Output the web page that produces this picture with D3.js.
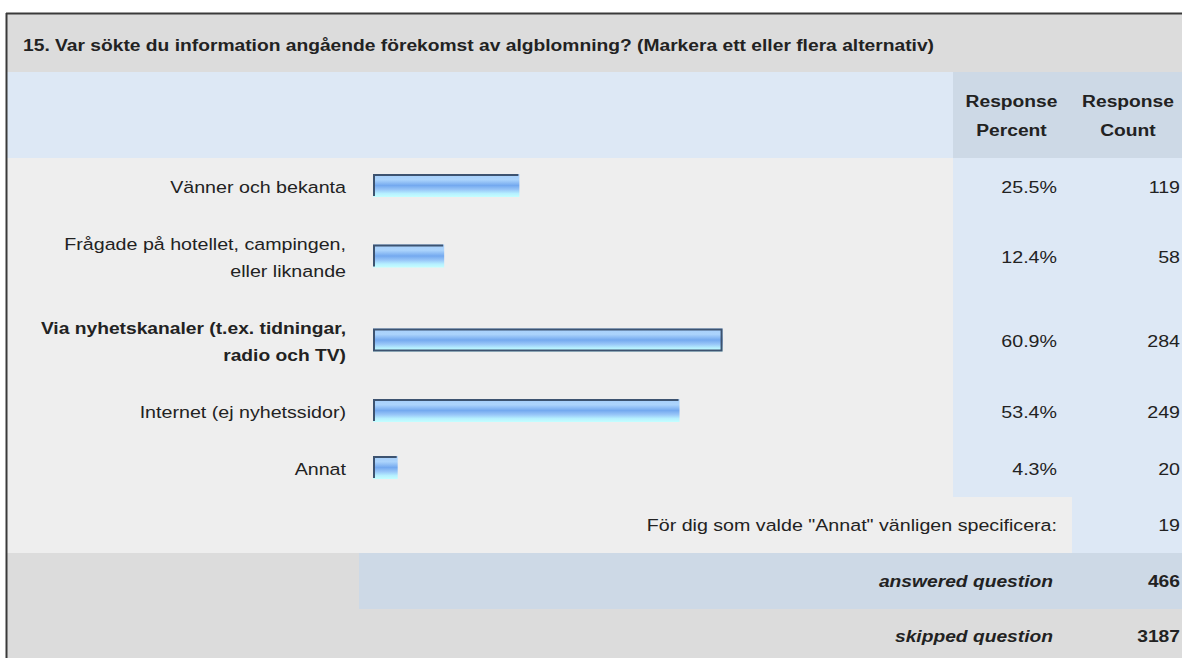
<!DOCTYPE html>
<html>
<head>
<meta charset="utf-8">
<script src="https://cdn.jsdelivr.net/npm/d3@7"></script>
<style>
  html, body { margin: 0; padding: 0; background: #ffffff; }
  svg { display: block; }
  text { font-family: "Liberation Sans", Arial, sans-serif; fill: #222; }
</style>
</head>
<body>
<svg id="chart" width="1182" height="658"></svg>
<script>
// Survey question 15 – answer options, shares and counts
const question = "15. Var sökte du information angående förekomst av algblomning? (Markera ett eller flera alternativ)";
const categories = [
  ["Vänner och bekanta"],
  ["Frågade på hotellet, campingen,", "eller liknande"],
  ["Via nyhetskanaler (t.ex. tidningar,", "radio och TV)"],
  ["Internet (ej nyhetssidor)"],
  ["Annat"]
];
const percents = [25.5, 12.4, 60.9, 53.4, 4.3];
const counts = [119, 58, 284, 249, 20];
const highlighted = [false, false, true, false, false];
const headerPercent = ["Response", "Percent"];
const headerCount = ["Response", "Count"];
const otherLabel = "För dig som valde \"Annat\" vänligen specificera:";
const otherCount = 19;
const answeredLabel = "answered question";
const answeredCount = 466;
const skippedLabel = "skipped question";
const skippedCount = 3187;

const W = 1182, H = 658;
const svg = d3.select("#chart");
const fs = 17.4;        // font size
const sxRegular = 1.13; // horizontal glyph stretch, regular weight
const sxBold = 1.105;   // horizontal glyph stretch, bold weight

// table geometry
const tLeft = 7, tTop = 14, tRight = W;
const titleH = 58, headerH = 86;
const pctX0 = 953, cntX0 = 1072;
const lineH = 27, rowPad = 30;

// bar scale: 0–100 % across the bar column
const x = d3.scaleLinear().domain([0, 100]).range([373, 947]);

// text helper: anchored at (x, y) with a vertical centre on y
function label(parent, px, py, str, opt = {}) {
  const sx = opt.bold ? sxBold : sxRegular;
  return parent.append("text")
    .attr("transform", `translate(${px},${py}) scale(${sx},1)`)
    .attr("dy", "0.35em")
    .attr("text-anchor", opt.anchor || "start")
    .attr("font-size", fs)
    .attr("font-weight", opt.bold ? "bold" : "normal")
    .attr("font-style", opt.italic ? "italic" : "normal")
    .text(str);
}

// defs: bar gradient
const defs = svg.append("defs");
const grad = defs.append("linearGradient").attr("id", "barGrad")
  .attr("x1", 0).attr("y1", 0).attr("x2", 0).attr("y2", 1);
[[0, "#a7cffb"], [0.25, "#acd4fc"], [0.5, "#74a9ef"], [0.68, "#98c6f8"], [0.85, "#b6f0ff"], [1, "#c4ffff"]]
  .forEach(([o, c]) => grad.append("stop").attr("offset", o).attr("stop-color", c));

// row layout derived from the number of label lines
const rows = [];
let yCursor = tTop + titleH + headerH;
categories.forEach((lines, i) => {
  const h = rowPad + lines.length * lineH;
  rows.push({ y0: yCursor, h, cy: yCursor + h / 2, lines, pct: percents[i], cnt: counts[i], hi: highlighted[i] });
  yCursor += h;
});
const bodyTop = tTop + titleH + headerH;
const bodyBottom = yCursor;
const otherH = 56, answeredH = 56;
const otherTop = bodyBottom, answeredTop = otherTop + otherH, skippedTop = answeredTop + answeredH;

// backgrounds
function band(x0, y0, x1, y1, fill) {
  svg.append("rect").attr("x", x0).attr("y", y0).attr("width", x1 - x0).attr("height", y1 - y0).attr("fill", fill);
}
band(tLeft, tTop, tRight, tTop + titleH, "#dcdcdc");
band(tLeft, tTop + titleH, pctX0, bodyTop, "#dde8f5");
band(pctX0, tTop + titleH, tRight, bodyTop, "#cdd9e6");
band(tLeft, bodyTop, pctX0, bodyBottom, "#eeeeee");
band(pctX0, bodyTop, tRight, bodyBottom, "#dde8f5");
band(tLeft, otherTop, cntX0, answeredTop, "#eeeeee");
band(cntX0, otherTop, tRight, answeredTop, "#dde8f5");
band(tLeft, answeredTop, 359, skippedTop, "#dcdcdc");
band(359, answeredTop, tRight, skippedTop, "#cdd9e6");
band(tLeft, skippedTop, tRight, H, "#dcdcdc");

// outer frame (top and left edges)
svg.append("line").attr("x1", tLeft - 1).attr("x2", tRight).attr("y1", tTop - 0.5).attr("y2", tTop - 0.5)
  .attr("stroke", "#3a3a3a").attr("stroke-width", 2);
svg.append("line").attr("x1", tLeft - 0.5).attr("x2", tLeft - 0.5).attr("y1", tTop - 1).attr("y2", H)
  .attr("stroke", "#3a3a3a").attr("stroke-width", 2);

// title
label(svg, 23, tTop + titleH / 2 + 2, question, { bold: true });

// column headers
const hdrMid = tTop + titleH + headerH / 2;
[[headerPercent, (pctX0 + cntX0) / 2 - 1], [headerCount, (cntX0 + tRight) / 2 + 1]].forEach(([lines, cx]) => {
  lines.forEach((t, j) => label(svg, cx, hdrMid + (j - 0.5) * 29, t, { bold: true, anchor: "middle" }));
});

// answer rows
const row = svg.append("g").selectAll("g.row").data(rows).join("g").attr("class", "row");

row.each(function (d) {
  const s = d3.select(this);
  d.lines.forEach((t, j) =>
    label(s, 346, d.cy + (j - (d.lines.length - 1) / 2) * lineH, t, { anchor: "end", bold: d.hi }));
});

const barH = 23;
row.append("rect")
  .attr("x", x(0)).attr("y", d => d.cy - barH / 2 - 1)
  .attr("width", d => x(d.pct) - x(0)).attr("height", barH)
  .attr("fill", "url(#barGrad)");

// bar edges: top and left, full outline on the highlighted option
row.append("path")
  .attr("d", d => {
    const x0 = x(0) + 1, x1 = x(d.pct) - 1, y0 = d.cy - barH / 2, y1 = d.cy + barH / 2 - 2;
    return d.hi ? `M${x0},${y1}V${y0}H${x1}V${y1}Z` : `M${x0},${y1}V${y0}H${x1}`;
  })
  .attr("fill", "none").attr("stroke", "#3d5370").attr("stroke-width", 2);

row.each(function (d) {
  const s = d3.select(this);
  label(s, 1057, d.cy, d.pct.toFixed(1) + "%", { anchor: "end" });
  label(s, 1180, d.cy, d.cnt, { anchor: "end" });
});

// "other" free-text row
label(svg, 1057, otherTop + otherH / 2, otherLabel, { anchor: "end" });
label(svg, 1180, otherTop + otherH / 2, otherCount, { anchor: "end" });

// summary rows
[[answeredLabel, answeredCount, answeredTop + answeredH / 2], [skippedLabel, skippedCount, skippedTop + (H - skippedTop) / 2 + 2]]
  .forEach(([lbl, n, cy]) => {
    label(svg, 1053, cy, lbl, { anchor: "end", bold: true, italic: true });
    label(svg, 1180, cy, n, { anchor: "end", bold: true });
  });
</script>
</body>
</html>
